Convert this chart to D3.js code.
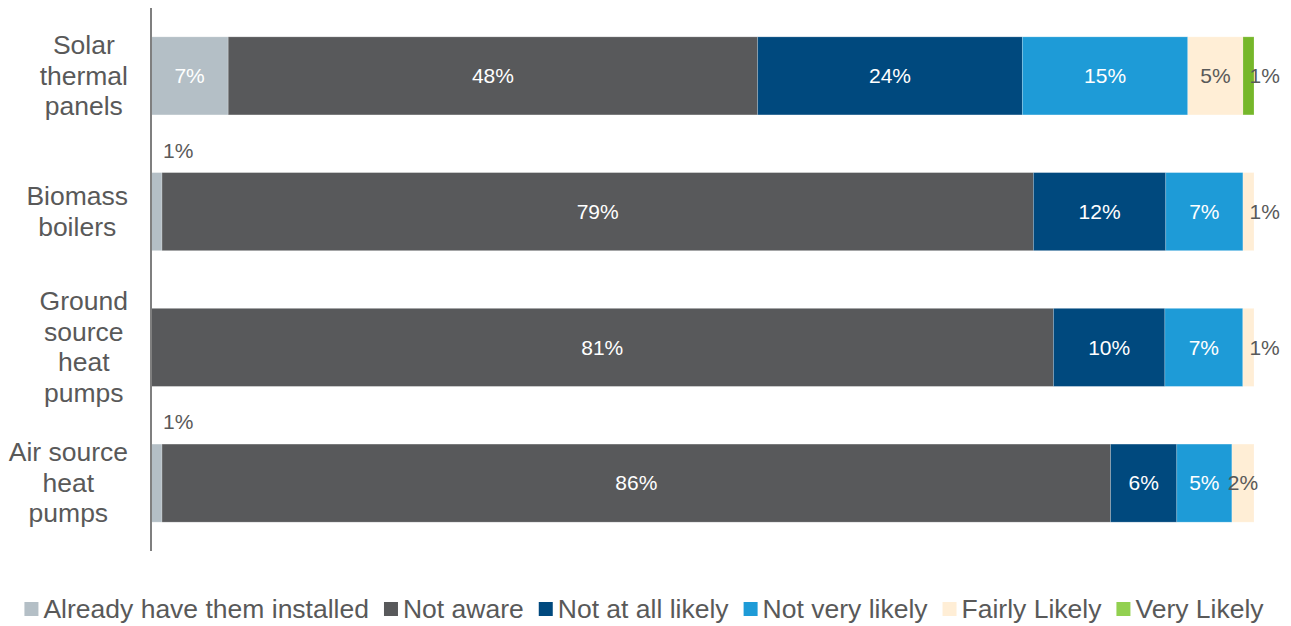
<!DOCTYPE html>
<html>
<head>
<meta charset="utf-8">
<script src="https://cdn.jsdelivr.net/npm/d3@7"></script>
<style>
  html, body { margin: 0; padding: 0; background: #ffffff; }
  svg { display: block; font-family: "Liberation Sans", Arial, sans-serif; }
</style>
</head>
<body>
<svg id="chart" width="1291" height="626"></svg>
<script>
// Technologies (one 100% stacked bar each)
const categories = [
  ["Solar", "thermal", "panels"],
  ["Biomass", "boilers"],
  ["Ground", "source", "heat", "pumps"],
  ["Air source", "heat", "pumps"]
];
const categoryKeys = ["Solar thermal panels", "Biomass boilers", "Ground source heat pumps", "Air source heat pumps"];

// Response groups, in stacking order
const seriesNames = ["Already have them installed", "Not aware", "Not at all likely", "Not very likely", "Fairly Likely", "Very Likely"];

// Percent of respondents, one array per response group (same order as categories)
const alreadyInstalled = [7, 1, 0, 1];
const notAware        = [48, 79, 81, 86];
const notAtAllLikely  = [24, 12, 10, 6];
const notVeryLikely   = [15, 7, 7, 5];
const fairlyLikely    = [5, 1, 1, 2];
const veryLikely      = [1, 0, 0, 0];

const seriesValues = [alreadyInstalled, notAware, notAtAllLikely, notVeryLikely, fairlyLikely, veryLikely];

const barColors    = ["#b4bfc6", "#58595b", "#00497e", "#1e9bd7", "#ffeed6", "#76b72a"];
const legendColors = ["#b4bfc6", "#58595b", "#00497e", "#1e9bd7", "#ffeed6", "#92d050"];
const labelColors  = ["#ffffff", "#ffffff", "#ffffff", "#ffffff", "#595959", "#595959"];
const textGrey = "#595959";

const svg = d3.select("#chart");

// Shares of each row total (100% stacked)
const x = d3.scaleLinear().domain([0, 1]).range([151, 1254]);
const y = d3.scaleBand()
  .domain(categoryKeys)
  .range([8, 551])
  .paddingInner(0.425)
  .paddingOuter(0.2125);

const rows = categoryKeys.map((key, i) => {
  const row = { key };
  seriesNames.forEach((s, j) => { row[s] = seriesValues[j][i]; });
  return row;
});
const stacked = d3.stack()
  .keys(seriesNames)
  .offset(d3.stackOffsetExpand)(rows);

// Bars
const layers = svg.append("g").selectAll("g")
  .data(stacked)
  .join("g")
  .attr("fill", (d, i) => barColors[i]);

layers.selectAll("rect")
  .data(d => d.filter(seg => seg[1] - seg[0] > 0))
  .join("rect")
  .attr("x", d => x(d[0]))
  .attr("y", d => y(d.data.key))
  .attr("width", d => x(d[1]) - x(d[0]))
  .attr("height", y.bandwidth())
  .attr("stroke", "#ffffff")
  .attr("stroke-opacity", 0.25)
  .attr("stroke-width", 0.8);

// Value labels
stacked.forEach((layer, si) => {
  const name = seriesNames[si];
  layer.forEach(seg => {
    const v = seg.data[name];
    if (v <= 0) return;
    const top = y(seg.data.key);
    const cy = top + y.bandwidth() / 2;
    const cx = (x(seg[0]) + x(seg[1])) / 2;
    const t = svg.append("text")
      .attr("font-size", 21)
      .text(v + "%");
    if (si === 0 && v < 2) {
      // thin first segment: label sits above the bar
      t.attr("x", x(seg[1]) + 1).attr("y", top - 22)
        .attr("dy", "0.35em").attr("text-anchor", "start").attr("fill", textGrey);
    } else if (si >= 4 && v < 2) {
      // thin end segment: label spills out to the right
      t.attr("x", cx + 1).attr("y", cy)
        .attr("dy", "0.35em").attr("text-anchor", "start").attr("fill", textGrey);
    } else {
      t.attr("x", cx).attr("y", cy)
        .attr("dy", "0.35em").attr("text-anchor", "middle").attr("fill", labelColors[si]);
    }
  });
});

// Vertical category axis line
svg.append("line")
  .attr("x1", 151).attr("x2", 151)
  .attr("y1", 8).attr("y2", 551)
  .attr("stroke", "#7f7f7f").attr("stroke-width", 2);

// Category labels: block right-aligned, lines centered within the block
const lineH = 30.5;
categories.forEach((lines, i) => {
  const key = categoryKeys[i];
  const cy = y(key) + y.bandwidth() / 2;
  const g = svg.append("g");
  const texts = lines.map((ln, k) => g.append("text")
    .attr("font-size", 26.5)
    .attr("fill", textGrey)
    .attr("text-anchor", "middle")
    .attr("y", cy + (k - (lines.length - 1) / 2) * lineH)
    .attr("dy", "0.33em")
    .text(ln));
  const maxW = d3.max(texts, t => t.node().getComputedTextLength());
  texts.forEach(t => t.attr("x", 128 - maxW / 2));
});

// Legend
const legend = svg.append("g");
let lx = 0;
const swatch = 14, gapSwatch = 5, gapItem = 15;
seriesNames.forEach((name, i) => {
  const item = legend.append("g").attr("transform", `translate(${lx},0)`);
  item.append("rect")
    .attr("x", 0).attr("y", -7)
    .attr("width", swatch).attr("height", swatch)
    .attr("fill", legendColors[i]);
  const t = item.append("text")
    .attr("x", swatch + gapSwatch).attr("y", 0)
    .attr("dy", "0.35em")
    .attr("font-size", 26.5)
    .attr("fill", textGrey)
    .text(name);
  lx += swatch + gapSwatch + t.node().getComputedTextLength() + gapItem;
});
const totalW = lx - gapItem;
legend.attr("transform", `translate(${644 - totalW / 2},609)`);
</script>
</body>
</html>
